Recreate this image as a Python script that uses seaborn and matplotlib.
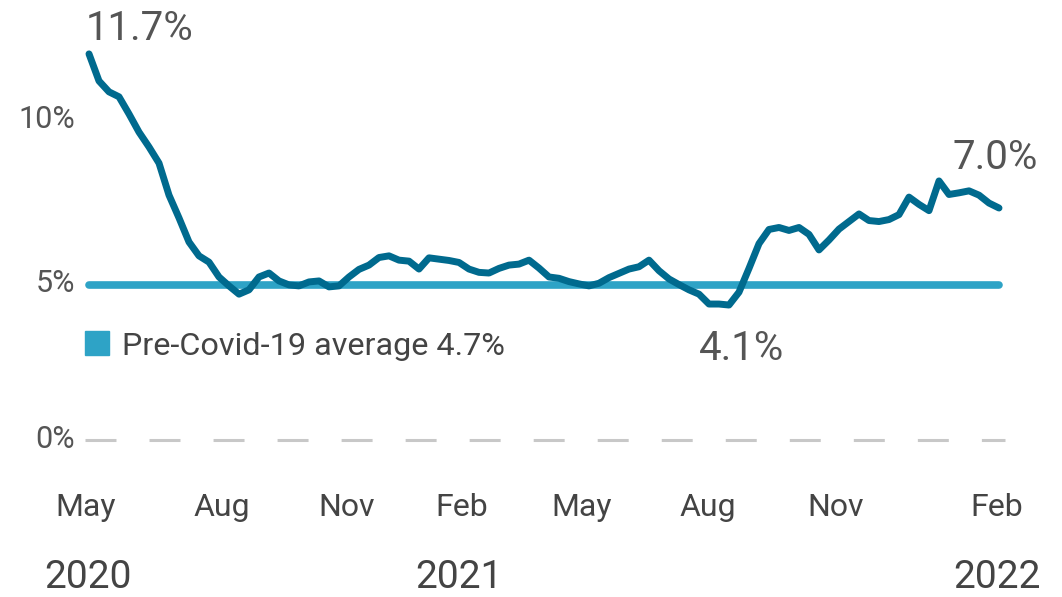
import numpy as np
import pandas as pd
import matplotlib
matplotlib.use("Agg")
import matplotlib.pyplot as plt
import matplotlib.transforms as mtransforms
import seaborn as sns
from matplotlib.patches import Patch

# ---- data (weekly rate, %) ----
rate = [11.70, 10.88, 10.55, 10.40, 9.88, 9.33, 8.88, 8.39, 7.42, 6.73,
        6.00, 5.58, 5.39, 4.94, 4.67, 4.42, 4.55, 4.94, 5.06, 4.82,
        4.70, 4.67, 4.79, 4.82, 4.64, 4.67, 4.94, 5.17, 5.30, 5.53,
        5.58, 5.45, 5.42, 5.18, 5.52, 5.48, 5.44, 5.38, 5.18, 5.08,
        5.06, 5.20, 5.30, 5.33, 5.45, 5.21, 4.94, 4.90, 4.80, 4.73,
        4.67, 4.75, 4.92, 5.05, 5.18, 5.25, 5.45, 5.13, 4.88, 4.71,
        4.55, 4.42, 4.12, 4.12, 4.09, 4.48, 5.20, 5.95, 6.38, 6.44,
        6.35, 6.44, 6.23, 5.76, 6.06, 6.39, 6.62, 6.85, 6.65, 6.62,
        6.68, 6.83, 7.36, 7.14, 6.95, 7.85, 7.44, 7.49, 7.55, 7.42,
        7.18, 7.03]
weeks = list(range(len(rate)))
pre_covid_avg = 4.7
month_labels = ["May", "Aug", "Nov", "Feb", "May", "Aug", "Nov", "Feb"]
month_pos = [-0.3, 13.3, 25.8, 37.3, 49.3, 61.9, 74.7, 90.8]
year_labels = ["2020", "2021", "2022"]
year_pos = [-0.1, 37.0, 90.8]
y_ticks = [0, 5, 10]
y_tick_labels = ["0%", "5%", "10%"]
callouts = [("11.7%", 0), ("4.1%", 64), ("7.0%", 91)]

df = pd.DataFrame({"week": weeks, "rate": rate})
avg_df = pd.DataFrame({"week": [weeks[0], weeks[-1]], "rate": [pre_covid_avg, pre_covid_avg]})

sns.set_theme(style="white")
plt.rcParams["font.family"] = ["Roboto", "DejaVu Sans"]
plt.rcParams["lines.scale_dashes"] = False

W, H = 1062, 597
fig = plt.figure(figsize=(W / 100, H / 100), dpi=100)
ax_left, ax_right, ax_top, ax_bottom = 85, 1005, 40, 450
ax = fig.add_axes([ax_left / W, 1 - ax_bottom / H, (ax_right - ax_left) / W, (ax_bottom - ax_top) / H])

LINE = "#006a8e"
AVG = "#2ea3c6"
GREY = "#555555"
DARK = "#444444"

ax.axhline(0, color="#c8c8c8", lw=2.2, ls=(0, (22.3, 23.8)), zorder=1, clip_on=False)

sns.lineplot(data=avg_df, x="week", y="rate", ax=ax, color=AVG, lw=5.5,
             solid_capstyle="round", zorder=2)
sns.lineplot(data=df, x="week", y="rate", ax=ax, color=LINE, lw=5.0,
             solid_capstyle="round", solid_joinstyle="round", zorder=3)

ax.set_xlim(-0.4, 91.6)
ax.set_ylim(-10 / 33, 400 / 33)

ax.set_yticks(y_ticks)
ax.set_yticklabels([])
ax.set_xticks(month_pos)
ax.set_xticklabels(month_labels)
ax.tick_params(axis="y", length=0)
ax.tick_params(axis="x", length=0, pad=31, labelsize=23, labelcolor=DARK)
for s in ax.spines.values():
    s.set_visible(False)
ax.set_xlabel("")
ax.set_ylabel("")

# y tick labels (drawn as text, with small vertical nudges like the reference)
y_nudge_px = {0: 3, 5: -5, 10: -6}
for v, lab in zip(y_ticks, y_tick_labels):
    tr = ax.get_yaxis_transform() + mtransforms.ScaledTranslation(-10 / 100, y_nudge_px[v] / 100, fig.dpi_scale_trans)
    ax.text(0, v, lab, transform=tr, ha="right", va="center_baseline",
            fontsize=22, color=GREY)

for lab, p in zip(year_labels, year_pos):
    ax.text(p, -0.312, lab, transform=ax.get_xaxis_transform(), ha="center",
            va="center", fontsize=28, color=DARK)

offsets = {0: (-3, 25, "left"), 64: (13, -43, "center"), 91: (-4, 51, "center")}
for txt, i in callouts:
    dx, dy, ha = offsets[i]
    ax.annotate(txt, xy=(weeks[i], rate[i]), xytext=(dx, dy), textcoords="offset pixels",
                ha=ha, va="center", fontsize=29, color=GREY)

leg = ax.legend(handles=[Patch(color=AVG, label="Pre-Covid-19 average 4.7%")],
                loc="center left", bbox_to_anchor=(85 / W, 1 - 346 / H),
                bbox_transform=fig.transFigure, frameon=False, fontsize=23.3,
                handlelength=0.74, handleheight=0.74, handletextpad=0.4,
                borderpad=0, borderaxespad=0)
for t in leg.get_texts():
    t.set_color(DARK)

fig.savefig("out.png", dpi=100)
